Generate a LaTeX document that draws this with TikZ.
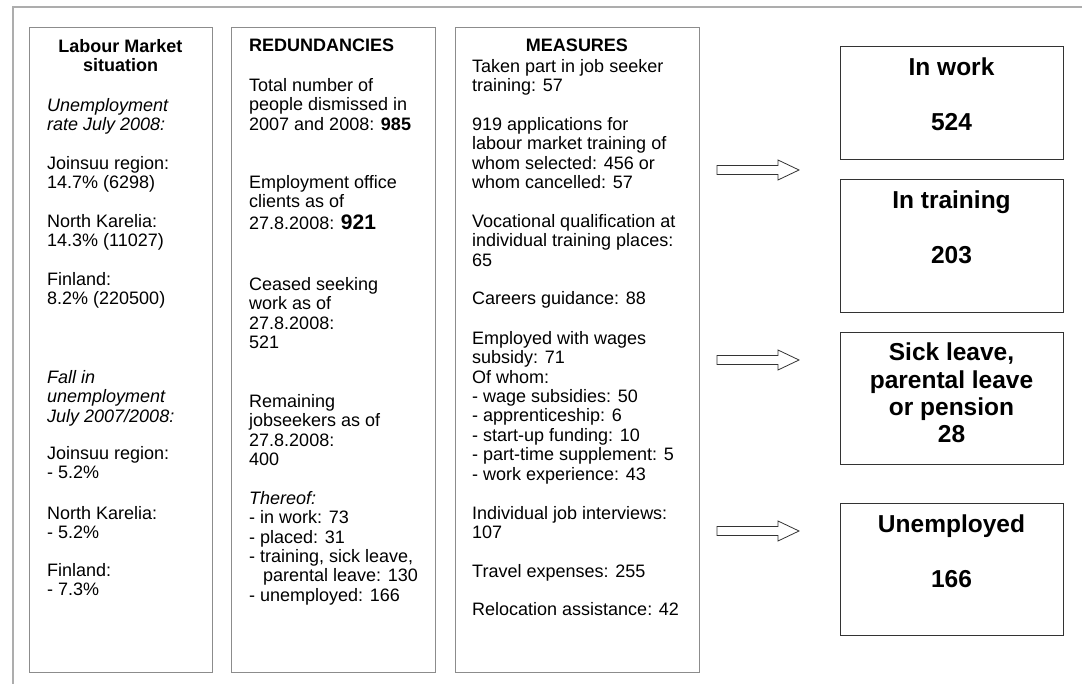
\documentclass[tikz,border=0pt]{standalone}
\usepackage{fontspec}
\setmainfont{Liberation Sans}
\begin{document}
\begin{tikzpicture}[x=1pt,y=-1pt,
  frame/.style={draw=black!32, line width=1.4pt},
  colbox/.style={draw=black!45, line width=0.9pt, anchor=north west, inner sep=0pt},
  rbox/.style={draw=black!80, line width=1.1pt, anchor=north west, inner sep=0pt, minimum width=223pt},
  txt/.style={anchor=north west, inner sep=0pt, align=left, font=\fontsize{18}{19.4}\selectfont},
  ttl/.style={anchor=north, inner sep=0pt, align=center, font=\fontsize{18}{19.4}\selectfont\bfseries},
  big/.style={anchor=base, inner sep=0pt, align=center, font=\fontsize{24.5}{27.3}\selectfont\bfseries},
  bigm/.style={anchor=north, inner sep=0pt, align=center, font=\fontsize{24.5}{27.3}\selectfont\bfseries},
  arrowline/.style={draw=black!80, line width=0.8pt, fill=white},
  hollow/.pic={\draw[arrowline] (-41,-4.5) -- (20,-4.5) -- (20,-10) -- (41,0) -- (20,10) -- (20,4.5) -- (-41,4.5) -- cycle;}
]
\useasboundingbox (0,0) rectangle (1082,684);
\draw[frame] (13,684) -- (13,7) -- (1082,7);

% column boxes
\node[colbox, minimum width=183pt, minimum height=645pt] (c1) at (29,27) {};
\node[colbox, minimum width=204pt, minimum height=645pt] (c2) at (231,27) {};
\node[colbox, minimum width=244pt, minimum height=645pt] (c3) at (455,27) {};

% column 1
\node[ttl] (t1) at (120.5,39) {Labour Market\\situation};
\node[txt] (a1) at (47,98) {\itshape Unemployment\\\itshape rate July 2008:};
\node[txt] (a2) at (47,156) {Joinsuu region:\\14.7\% (6298)};
\node[txt] (a3) at (47,214) {North Karelia:\\14.3\% (11027)};
\node[txt] (a4) at (47,272) {Finland:\\8.2\% (220500)};
\node[txt] (a5) at (47,370) {\itshape Fall in\\\itshape unemployment\\\itshape July 2007/2008:};
\node[txt] (a6) at (47,446) {Joinsuu region:\\- 5.2\%};
\node[txt] (a7) at (47,506) {North Karelia:\\- 5.2\%};
\node[txt] (a8) at (47,563) {Finland:\\- 7.3\%};

% column 2
\node[txt, font=\fontsize{18}{19.4}\selectfont\bfseries] (t2) at (249,39) {REDUNDANCIES};
\node[txt] (b1) at (249,78) {Total number of\\people dismissed in\\2007 and 2008: \textbf{985}};
\node[txt] (b2) at (249,175) {Employment office\\clients as of\\[2.6pt]27.8.2008: {\fontsize{21}{22}\selectfont\bfseries 921}};
\node[txt] (b3) at (249,277) {Ceased seeking\\work as of\\27.8.2008:\\521};
\node[txt] (b4) at (249,394) {Remaining\\jobseekers as of\\27.8.2008:\\400};
\node[txt] (b5) at (249,491) {\itshape Thereof:\\- in work: 73\\- placed: 31\\- training, sick leave,\\\hspace*{14pt}parental leave: 130\\- unemployed: 166};

% column 3
\node[ttl] (t3) at (577,39) {MEASURES};
\node[txt] (m1) at (472,59) {Taken part in job seeker\\training: 57};
\node[txt] (m2) at (472,117) {919 applications for\\labour market training of\\whom selected: 456 or\\whom cancelled: 57};
\node[txt] (m3) at (472,214) {Vocational qualification at\\individual training places:\\65};
\node[txt] (m4) at (472,291) {Careers guidance: 88};
\node[txt] (m5) at (472,331) {Employed with wages\\subsidy: 71\\Of whom:\\- wage subsidies: 50\\- apprenticeship: 6\\- start-up funding: 10\\- part-time supplement: 5\\- work experience: 43};
\node[txt] (m6) at (472,506) {Individual job interviews:\\107};
\node[txt] (m7) at (472,564) {Travel expenses: 255};
\node[txt] (m8) at (472,602) {Relocation assistance: 42};

% arrows
\pic at (758,170) {hollow};
\pic at (758,360) {hollow};
\pic at (758,531) {hollow};

% result boxes
\node[rbox, minimum height=113pt] (rA) at (840,46) {};
\node[rbox, minimum height=133pt] (rB) at (840,179) {};
\node[rbox, minimum height=132pt] (rC) at (840,332) {};
\node[rbox, minimum height=132pt] (rD) at (840,503) {};

\node[big] (rA1) at (951.5,76) {In work};
\node[big] (rA2) at (951.5,131) {524};
\node[big] (rB1) at (951.5,209) {In training};
\node[big] (rB2) at (951.5,264) {203};
\node[bigm] (rC1) at (951.5,343) {Sick leave,\\parental leave\\or pension\\28};
\node[big] (rD1) at (951.5,532) {Unemployed};
\node[big] (rD2) at (951.5,587) {166};
\end{tikzpicture}
\end{document}
